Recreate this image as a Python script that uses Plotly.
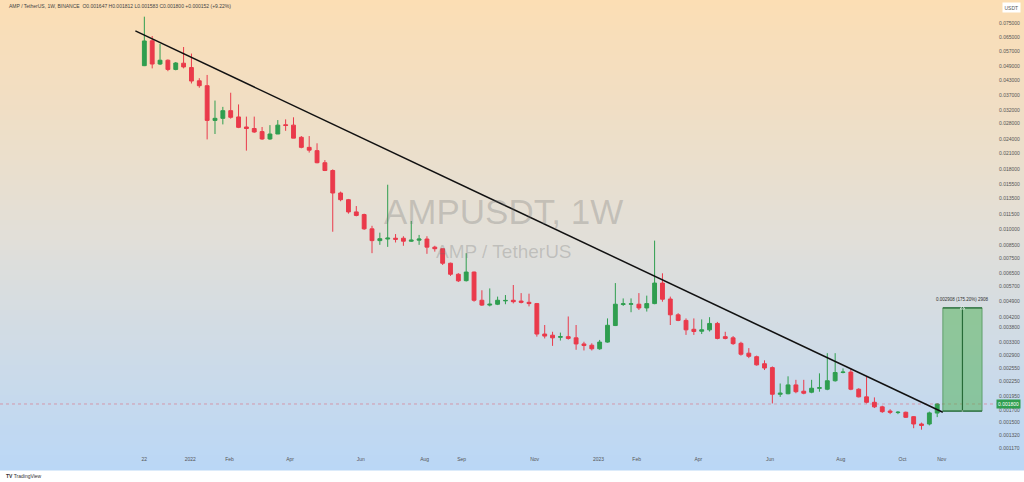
import math
import pandas as pd
import plotly.graph_objects as go

# ---------------- data ----------------
first_week = "2021-11-22"
open_ = [0.0494, 0.0630, 0.0502, 0.0521, 0.0476, 0.0506, 0.0485, 0.0426, 0.0406, 0.0289,
         0.0295, 0.0318, 0.0299, 0.0271, 0.0267, 0.0259, 0.0241, 0.0253, 0.0277, 0.0276,
         0.0245, 0.0222, 0.0215, 0.0191, 0.0177, 0.0142, 0.0133, 0.0118, 0.0115, 0.0100,
         0.00891, 0.00905, 0.00912, 0.00912, 0.00886, 0.00895, 0.00905, 0.00836, 0.00823, 0.00714,
         0.00641, 0.00602, 0.00655, 0.00497, 0.00474, 0.00478, 0.00494, 0.00497, 0.00493, 0.00487,
         0.00481, 0.00357, 0.00353, 0.00346, 0.00348, 0.00344, 0.00324, 0.00320, 0.00309, 0.00330,
         0.00388, 0.00477, 0.00478, 0.00478, 0.00461, 0.00481, 0.00588, 0.00503, 0.00431, 0.00408,
         0.00374, 0.00367, 0.00372, 0.00396, 0.00348, 0.00344, 0.00326, 0.00296, 0.00286, 0.00267,
         0.00257, 0.00198, 0.00199, 0.00217, 0.00204, 0.00202, 0.00210, 0.00208, 0.00226, 0.00245,
         0.00246, 0.00208, 0.00193, 0.00183, 0.00175, 0.00168, 0.001655, 0.00166, 0.00159, 0.00148,
         0.00148, 0.001647]
high = [0.0798, 0.0660, 0.0611, 0.0525, 0.0512, 0.0593, 0.0556, 0.0437, 0.0451, 0.0351,
        0.0330, 0.0379, 0.0338, 0.0300, 0.0300, 0.0271, 0.0276, 0.0290, 0.0292, 0.0298,
        0.0248, 0.0248, 0.0231, 0.0196, 0.0179, 0.0144, 0.0134, 0.0125, 0.0116, 0.0103,
        0.00963, 0.0154, 0.00950, 0.00930, 0.0108, 0.00942, 0.00930, 0.00847, 0.00826, 0.00718,
        0.00648, 0.00788, 0.00658, 0.00548, 0.00558, 0.00515, 0.00523, 0.00577, 0.00533, 0.00530,
        0.00484, 0.00390, 0.00365, 0.00362, 0.00424, 0.00390, 0.00331, 0.00326, 0.00337, 0.00416,
        0.00588, 0.00506, 0.00506, 0.00533, 0.00520, 0.00891, 0.00647, 0.00515, 0.00438, 0.00416,
        0.00416, 0.00412, 0.00421, 0.00402, 0.00365, 0.00350, 0.00331, 0.00311, 0.00289, 0.00276,
        0.00260, 0.00220, 0.00236, 0.00228, 0.00228, 0.00228, 0.00243, 0.00296, 0.00296, 0.00255,
        0.00255, 0.00210, 0.00235, 0.00192, 0.00177, 0.00171, 0.00168, 0.00167, 0.00160, 0.00150,
        0.00167, 0.001812]
low = [0.0492, 0.0481, 0.0497, 0.0468, 0.0472, 0.0481, 0.0415, 0.0398, 0.0240, 0.0253,
       0.0278, 0.0294, 0.0268, 0.0215, 0.0256, 0.0239, 0.0239, 0.0253, 0.0261, 0.0243,
       0.0220, 0.0211, 0.0190, 0.0176, 0.00972, 0.0131, 0.0116, 0.0113, 0.0099, 0.00788,
       0.00855, 0.00838, 0.00875, 0.00847, 0.00880, 0.00855, 0.00783, 0.00800, 0.00702, 0.00631,
       0.00594, 0.00597, 0.00490, 0.00470, 0.00468, 0.00474, 0.00478, 0.00482, 0.00482, 0.00468,
       0.00348, 0.00342, 0.00318, 0.00335, 0.00338, 0.00306, 0.00304, 0.00304, 0.00306, 0.00328,
       0.00386, 0.00470, 0.00442, 0.00452, 0.00445, 0.00478, 0.00490, 0.00390, 0.00405, 0.00354,
       0.00354, 0.00357, 0.00366, 0.00339, 0.00339, 0.00321, 0.00289, 0.00282, 0.00262, 0.00251,
       0.00181, 0.00193, 0.00198, 0.00200, 0.00198, 0.00200, 0.00203, 0.00206, 0.00224, 0.00243,
       0.00206, 0.00192, 0.00181, 0.00173, 0.00165, 0.00163, 0.00163, 0.00157, 0.00142, 0.00140,
       0.00146, 0.001583]
close = [0.0629, 0.0502, 0.0521, 0.0476, 0.0507, 0.0488, 0.0425, 0.0406, 0.0289, 0.0295,
         0.0318, 0.0298, 0.0270, 0.0267, 0.0258, 0.0241, 0.0253, 0.0276, 0.0275, 0.0243,
         0.0222, 0.0216, 0.0191, 0.0177, 0.0142, 0.0133, 0.0118, 0.0114, 0.0100, 0.00891,
         0.00908, 0.00913, 0.00903, 0.00886, 0.00895, 0.00905, 0.00836, 0.00823, 0.00714, 0.00641,
         0.00601, 0.00655, 0.00497, 0.00474, 0.00478, 0.00497, 0.00496, 0.00490, 0.00487, 0.00481,
         0.00357, 0.00350, 0.00344, 0.00348, 0.00342, 0.00324, 0.00319, 0.00309, 0.00330, 0.00389,
         0.00478, 0.00480, 0.00480, 0.00461, 0.00481, 0.00588, 0.00502, 0.00431, 0.00408, 0.00372,
         0.00366, 0.00372, 0.00396, 0.00342, 0.00342, 0.00325, 0.00293, 0.00287, 0.00264, 0.00256,
         0.00198, 0.00200, 0.00217, 0.00203, 0.00200, 0.00210, 0.00211, 0.00226, 0.00245, 0.00246,
         0.00208, 0.00193, 0.00183, 0.00175, 0.00167, 0.00166, 0.00166, 0.00158, 0.00148, 0.00146,
         0.00165, 0.001800]
dates = pd.date_range(first_week, periods=len(open_), freq="7D")

trend_x = ["2021-11-14", "2023-11-04"]
trend_y = [0.0694, 0.00166]

last_price = 0.0018
last_price_text = "0.001800"
measure_x = ["2023-11-04", "2023-12-09"]
measure_mid_x = "2023-11-21 12:00"
measure_y = [0.00168, 0.00461]
measure_label = "0.002908 (175.20%) 2908"

y_tickvals = [0.075, 0.065, 0.057, 0.049, 0.043, 0.037, 0.032, 0.028, 0.024, 0.021,
              0.018, 0.0155, 0.0135, 0.0115, 0.010, 0.0085, 0.0075, 0.0065, 0.0057, 0.0049,
              0.0042, 0.0038, 0.0033, 0.0029, 0.00255, 0.00225, 0.00195, 0.0017, 0.0015,
              0.00132, 0.00117]
y_ticktext = ["0.075000", "0.065000", "0.057000", "0.049000", "0.043000", "0.037000",
              "0.032000", "0.028000", "0.024000", "0.021000", "0.018000", "0.015500",
              "0.013500", "0.011500", "0.010000", "0.008500", "0.007500", "0.006500",
              "0.005700", "0.004900", "0.004200", "0.003800", "0.003300", "0.002900",
              "0.002550", "0.002250", "0.001950", "0.001700", "0.001500", "0.001320",
              "0.001170"]
x_tickvals = ["2021-11-22", "2022-01-02", "2022-02-06", "2022-04-01", "2022-06-03",
              "2022-07-30", "2022-09-01", "2022-11-05", "2023-01-01", "2023-02-04",
              "2023-03-31", "2023-06-03", "2023-08-05", "2023-09-29", "2023-11-03"]
x_ticktext = ["22", "2022", "Feb", "Apr", "Jun", "Aug", "Sep", "Nov", "2023", "Feb",
              "Apr", "Jun", "Aug", "Oct", "Nov"]

header = ("AMP / TetherUS, 1W, BINANCE  O0.001647 H0.001812 L0.001583 "
          "C0.001800 +0.000152 (+9.22%)")

# ---------------- styling ----------------
W, H = 1024, 482
ML, MR, MT, MB = 0, 26, 0, 27
PW, PH = W - ML - MR, H - MT - MB
GREEN = "#2f9e4f"
RED = "#ea3a4b"
FONT = "Liberation Sans"
x_range = ["2021-07-16 07:00", "2023-12-23 05:00"]
y_range = [-2.9616, -1.0271]

fig = go.Figure()

fig.add_trace(go.Candlestick(
    x=dates, open=open_, high=high, low=low, close=close,
    increasing=dict(line=dict(color=GREEN, width=1), fillcolor=GREEN),
    decreasing=dict(line=dict(color=RED, width=1), fillcolor=RED),
    whiskerwidth=0, showlegend=False, hoverinfo="skip"))

# last price dotted line
fig.add_trace(go.Scatter(x=x_range, y=[last_price, last_price], mode="lines",
                         line=dict(color="rgba(234,58,75,0.4)", width=1, dash="dot"),
                         showlegend=False, hoverinfo="skip"))

# trend line
fig.add_trace(go.Scatter(x=trend_x, y=trend_y, mode="lines",
                         line=dict(color="#111111", width=1.5),
                         showlegend=False, hoverinfo="skip"))

# measurement box
fig.add_trace(go.Scatter(
    x=[measure_x[0], measure_x[1], measure_x[1], measure_x[0], measure_x[0]],
    y=[measure_y[0], measure_y[0], measure_y[1], measure_y[1], measure_y[0]],
    mode="lines", fill="toself", fillcolor="rgba(76,175,80,0.5)",
    line=dict(color="rgba(50,130,60,0.6)", width=1),
    showlegend=False, hoverinfo="skip"))
for yy in measure_y:
    fig.add_trace(go.Scatter(x=measure_x, y=[yy, yy], mode="lines",
                             line=dict(color="#276b38", width=1.2),
                             showlegend=False, hoverinfo="skip"))
fig.add_trace(go.Scatter(x=[measure_mid_x, measure_mid_x], y=measure_y,
                         mode="lines+markers",
                         line=dict(color="#276b38", width=1.2),
                         marker=dict(symbol=["line-ew", "triangle-up"], size=[1, 4],
                                     color="#276b38"),
                         showlegend=False, hoverinfo="skip"))

# background gradient (styling)
top_c = (252, 222, 180)
mid_c = (226, 223, 216)
bot_c = (186, 215, 246)
n = 94
total_px = 470
shapes = []
for i in range(n):
    t = (i + 0.5) / n
    if t < 0.5:
        u = t / 0.5
        c = [round(top_c[k] + (mid_c[k] - top_c[k]) * u) for k in range(3)]
    else:
        u = (t - 0.5) / 0.5
        c = [round(mid_c[k] + (bot_c[k] - mid_c[k]) * u) for k in range(3)]
    y0px = total_px * i / n
    y1px = total_px * (i + 1) / n + 0.6
    shapes.append(dict(type="rect", xref="paper", yref="paper", layer="below",
                       x0=0, x1=W / PW, y0=1 - y1px / PH, y1=1 - y0px / PH,
                       line=dict(width=0), fillcolor="rgb(%d,%d,%d)" % tuple(c)))

annotations = [
    dict(text=header, xref="paper", yref="paper", x=7 / PW, y=1 - 1 / PH,
         xanchor="left", yanchor="top", showarrow=False,
         font=dict(family=FONT, size=5, color="#444444")),
    dict(text="AMPUSDT, 1W", xref="paper", yref="paper", x=503 / PW, y=1 - 211 / PH,
         xanchor="center", yanchor="middle", showarrow=False,
         font=dict(family=FONT, size=35, color="rgba(110,110,110,0.28)")),
    dict(text="AMP / TetherUS", xref="paper", yref="paper", x=504 / PW, y=1 - 251 / PH,
         xanchor="center", yanchor="middle", showarrow=False,
         font=dict(family=FONT, size=19, color="rgba(110,110,110,0.28)")),
    dict(text=measure_label, x=measure_mid_x, y=math.log10(measure_y[1]),
         xref="x", yref="y", yanchor="bottom", yshift=4, showarrow=False,
         font=dict(family=FONT, size=4.5, color="#333333")),
    dict(text=last_price_text, xref="paper", x=1, xanchor="left", xshift=-2,
         y=math.log10(last_price), yref="y", yanchor="middle", showarrow=False,
         bgcolor=GREEN, borderpad=1,
         font=dict(family=FONT, size=5, color="#ffffff")),
    dict(text="USDT", xref="paper", yref="paper", x=(1002 - ML) / PW, y=1 - 2 / PH,
         xanchor="left", yanchor="top", showarrow=False, bgcolor="#ffffff",
         borderpad=1.5, font=dict(family=FONT, size=5, color="#555555")),
    dict(text="<b>TV</b> TradingView", xref="paper", yref="paper", x=4 / PW,
         y=1 - 476 / PH, xanchor="left", yanchor="middle", showarrow=False,
         font=dict(family=FONT, size=5, color="#333333")),
]

fig.update_layout(
    width=W, height=H,
    margin=dict(l=ML, r=MR, t=MT, b=MB),
    paper_bgcolor="#ffffff", plot_bgcolor="rgba(0,0,0,0)",
    shapes=shapes, annotations=annotations,
    showlegend=False,
    xaxis=dict(type="date", range=x_range, tickvals=x_tickvals, ticktext=x_ticktext,
               showgrid=False, zeroline=False, showline=False, ticks="",
               tickfont=dict(family=FONT, size=5, color="#555555"),
               rangeslider=dict(visible=False), fixedrange=True),
    yaxis=dict(type="log", range=y_range, side="right", tickvals=y_tickvals,
               ticktext=y_ticktext, showgrid=False, zeroline=False, showline=False,
               ticks="", ticklabelposition="outside",
               tickfont=dict(family=FONT, size=5, color="#555555"), fixedrange=True),
)

fig.write_html(
    "out.html",
    config={"displayModeBar": False, "staticPlot": True},
    post_script="document.body.style.margin='0';document.body.style.overflow='hidden';",
)
